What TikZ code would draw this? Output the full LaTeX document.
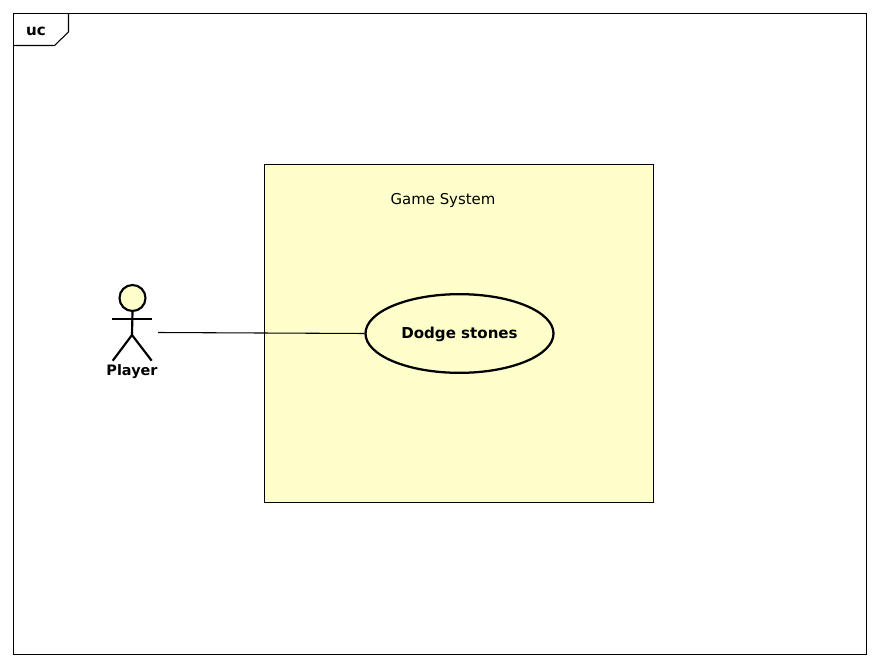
\documentclass[tikz,border=0pt]{standalone}
\usepackage{fontspec}
\setmainfont{DejaVu Sans}
\usetikzlibrary{shapes.geometric}
\definecolor{umlfill}{RGB}{255,255,204}
\tikzset{x=0.75pt,y=-0.75pt,
 frameline/.style={draw=black,line width=0.8pt},
 boundary/.style={draw=black,fill=umlfill,line width=0.6pt,minimum width=292pt,minimum height=253.5pt,inner sep=0pt,outer sep=0pt},
 usecase/.style={ellipse,draw=black,fill=umlfill,line width=1.7pt,minimum width=141pt,minimum height=59pt,inner sep=0pt,font=\fontsize{11.3}{14}\bfseries},
 head/.style={circle,draw=black,fill=umlfill,line width=1.6pt,minimum size=19.5pt,inner sep=0pt},
 limb/.style={draw=black,line width=1.6pt},
 assoc/.style={draw=black,line width=0.8pt}}
\begin{document}
\begin{tikzpicture}
\useasboundingbox (0,0) rectangle (880,666);
\draw[frameline] (13.5,13.5) rectangle (866.7,654.2);
\draw[frameline] (13.5,45.5) -- (54.5,45.5) -- (68.5,32) -- (68.5,13.5);
\node[font=\fontsize{11.3}{14}\bfseries] (uc) at (36,31) {uc};
\node[boundary] (sys) at (459,333.5) {};
\node[font=\fontsize{11.2}{14}\selectfont] (sysname) at (443,200.5) {Game System};
\node[usecase] (dodge) at (459.5,333.5) {\raisebox{-3.9pt}[0pt][0pt]{Dodge stones}};
\node[head] (hd) at (132.5,298) {};
\coordinate (hip) at (132,335);
\coordinate (la) at (112,319.3);
\coordinate (ra) at (152,319.3);
\coordinate (ll) at (112.7,360.7);
\coordinate (rl) at (151.7,360.7);
\coordinate (actorend) at (158,332.5);
\draw[limb] (hd.south) -- (hip);
\draw[limb] (la) -- (ra);
\draw[limb] (ll) -- (hip) -- (rl);
\node[font=\fontsize{10.8}{14}\bfseries] (player) at (132,372) {Player};
\draw[assoc] (actorend) -- (dodge.west);
\end{tikzpicture}
\end{document}
